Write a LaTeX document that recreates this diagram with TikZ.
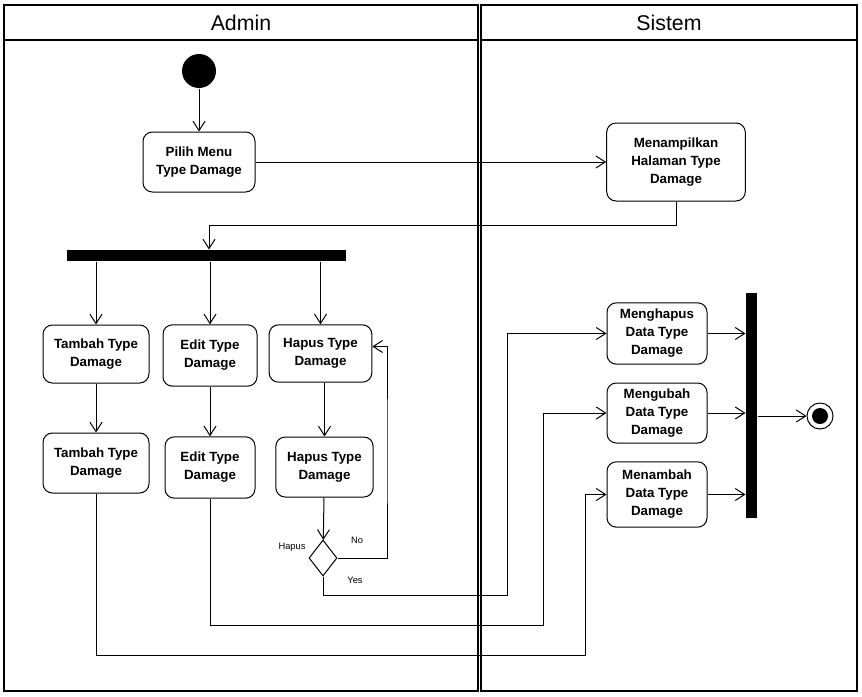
\documentclass[tikz,border=0pt]{standalone}
\usepackage{fontspec}
\setmainfont{Liberation Sans}
\usetikzlibrary{positioning, shapes.geometric, arrows.meta}

\begin{document}
\begin{tikzpicture}[x=0.75pt,y=-0.75pt,line width=0.75pt,
        >={Straight Barb[length=7pt,width=9pt]},
        act/.style={draw,rounded corners=7pt,align=center,inner sep=0pt,font=\fontsize{10}{13.5}\selectfont\bfseries},
        bar/.style={fill=black,inner sep=0pt},
        lane/.style={draw,line width=1.3pt},
        title/.style={font=\fontsize{16}{18}\selectfont},
        guard/.style={font=\fontsize{7}{8}\selectfont,inner sep=0pt}]

        \useasboundingbox (0,0) rectangle (862,696);

        % swimlanes
        \draw[lane] (4,5) rectangle (478,691);
        \draw[lane] (4,40) -- (478,40);
        \draw[lane] (481,5) rectangle (857,691);
        \draw[lane] (481,40) -- (857,40);
        \node[title] (admin)  at (241,23) {Admin};
        \node[title] (sistem) at (669,23) {Sistem};

        \node[circle,fill=black,minimum size=25.5pt,inner sep=0pt] (start) at (199,71) {};
        \node[act,minimum width=84pt,minimum height=45pt] (pilih) at (199,162) {Pilih Menu\\Type Damage};
        \node[act,minimum width=104pt,minimum height=58.5pt] (tampil) at (676,162) {Menampilkan\\Halaman Type\\Damage};

        \node[bar,minimum width=209pt,minimum height=8.25pt] (fork) at (206.5,255.5) {};

        \node[act,minimum width=79.5pt,minimum height=43.5pt] (tambah1) at (96,354) {Tambah Type\\Damage};
        \node[act,minimum width=70.5pt,minimum height=46pt] (edit1) at (210,355.5) {Edit Type\\Damage};
        \node[act,minimum width=77pt,minimum height=43pt] (hapus1) at (320.5,353.5) {Hapus Type\\Damage};

        \node[act,minimum width=79.5pt,minimum height=45pt] (tambah2) at (96,463) {Tambah Type\\Damage};
        \node[act,minimum width=67.5pt,minimum height=46pt] (edit2) at (210,467.5) {Edit Type\\Damage};
        \node[act,minimum width=73pt,minimum height=45pt] (hapus2) at (324.5,467) {Hapus Type\\Damage};

        \node[diamond,draw,minimum width=21pt,minimum height=27pt,inner sep=0pt] (cek) at (323,558) {};
        \node[guard] (lhapus) at (292,547) {Hapus};
        \node[guard] (lno)    at (357,540) {No};
        \node[guard] (lyes)   at (355,580) {Yes};

        \node[act,minimum width=75pt,minimum height=46pt] (hapusdata)  at (657,333.5) {Menghapus\\Data Type\\Damage};
        \node[act,minimum width=75pt,minimum height=45pt] (ubahdata)   at (657,413)   {Mengubah\\Data Type\\Damage};
        \node[act,minimum width=75pt,minimum height=49pt] (tambahdata) at (657,494.5) {Menambah\\Data Type\\Damage};

        \node[bar,minimum width=8.25pt,minimum height=168.75pt] (join) at (751.5,405.5) {};
        \node[circle,draw,minimum size=19.5pt,inner sep=0pt,
              path picture={\fill (path picture bounding box.center) circle (6pt);}] (stop) at (820,416) {};

        % corners of the routed lines
        \coordinate (forkin) at (209,225);
        \coordinate (noup)   at (387,450);
        \coordinate (yesc)   at (507,595);
        \coordinate (ubahc)  at (543,625);
        \coordinate (tambc)  at (585,655);

        \path[->]
                  (start) edge (pilih)
                  (pilih) edge (tampil)

                  (tambah1 |- fork.south) edge (tambah1)
                  (edit1 |- fork.south)   edge (edit1)
                  (hapus1 |- fork.south)  edge (hapus1)

                  (tambah1) edge (tambah2)
                  (edit1)   edge (edit2)
                  (hapus1.south -| hapus2) edge (hapus2)
                  (hapus2)  edge (cek)

                  (hapusdata)  edge (hapusdata -| join.west)
                  (ubahdata)   edge (ubahdata -| join.west)
                  (tambahdata) edge (tambahdata -| join.west)
                  (join.east |- stop) edge (stop);

        \draw[->] (tampil.south) |- (forkin) -- (forkin |- fork.north);
        \draw[->] (cek.east) -| (noup) |- ([yshift=5.25pt]hapus1.east);
        \draw[->] (cek.south) |- (yesc) |- (hapusdata.west);
        \draw[->] (edit2.south) |- (ubahc) |- (ubahdata.west);
        \draw[->] (tambah2.south) |- (tambc) |- (tambahdata.west);
\end{tikzpicture}
\end{document}
